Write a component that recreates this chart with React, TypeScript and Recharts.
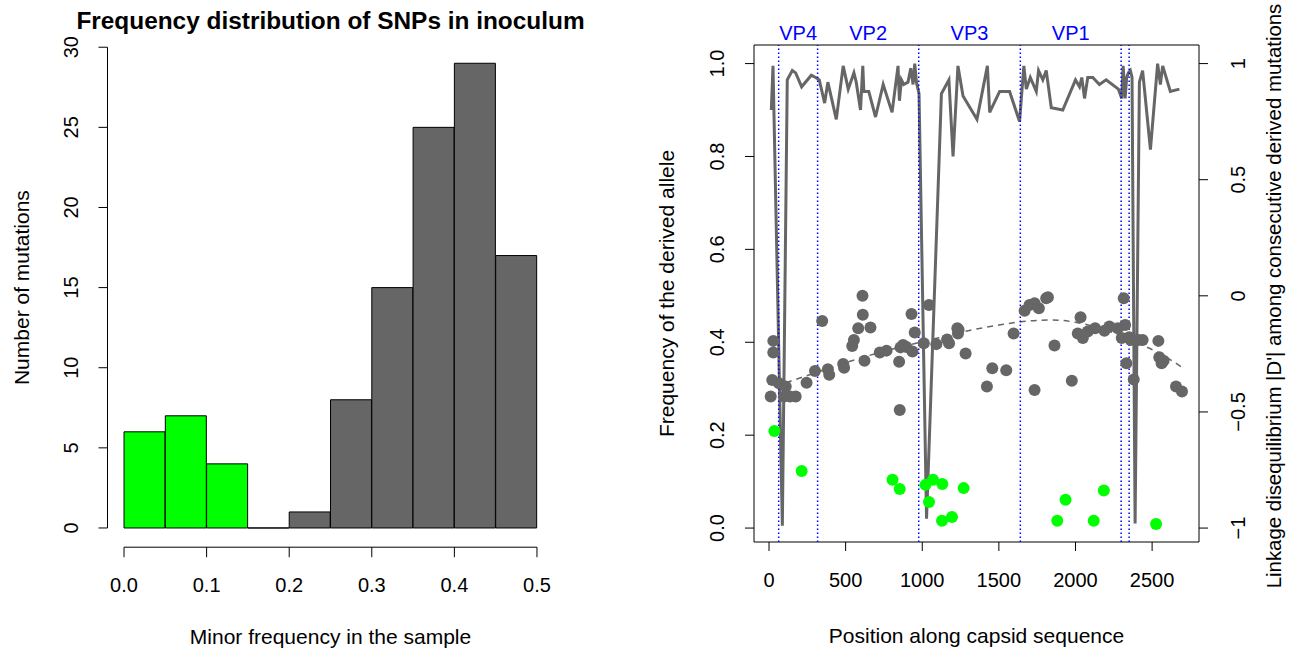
import React from "react";
import {
  ComposedChart,
  Bar,
  Cell,
  Line,
  Scatter,
  XAxis,
  YAxis,
  ReferenceLine,
  ReferenceArea,
  ReferenceDot,
} from "recharts";

// left panel: histogram of minor frequency
const binStarts = [0, 0.05, 0.1, 0.15, 0.2, 0.25, 0.3, 0.35, 0.4, 0.45];
const binCounts = [6, 7, 4, 0, 1, 8, 15, 25, 29, 17];
const binWidth = 0.05;
const rareCutoff = 0.15;
const freqTicks = [0, 0.1, 0.2, 0.3, 0.4, 0.5];
const countTicks = [0, 5, 10, 15, 20, 25, 30];

// right panel: derived allele frequency along the capsid
const posTicks = [0, 500, 1000, 1500, 2000, 2500];
const alleleTicks = [0, 0.2, 0.4, 0.6, 0.8, 1];
const ldTicks = [-1, -0.5, 0, 0.5, 1];

const commonSnps: [number, number][] = [
  [11, 0.283], [21, 0.319], [28, 0.378], [28, 0.403], [65, 0.312], [98, 0.283],
  [109, 0.305], [137, 0.283], [174, 0.283], [245, 0.313], [300, 0.338], [347, 0.446],
  [384, 0.342], [393, 0.33], [484, 0.353], [490, 0.345], [543, 0.392], [554, 0.405],
  [582, 0.43], [610, 0.5], [612, 0.459], [623, 0.36], [662, 0.432], [723, 0.378],
  [767, 0.382], [849, 0.358], [853, 0.254], [858, 0.389], [875, 0.394], [897, 0.39],
  [930, 0.461], [936, 0.38], [951, 0.421], [1010, 0.398], [1044, 0.48], [1092, 0.396],
  [1162, 0.406], [1175, 0.398], [1229, 0.43], [1233, 0.419], [1237, 0.427], [1283, 0.376],
  [1422, 0.305], [1457, 0.344], [1548, 0.34], [1596, 0.419], [1668, 0.468], [1700, 0.48],
  [1733, 0.484], [1733, 0.297], [1761, 0.473], [1809, 0.495], [1820, 0.497], [1863, 0.393],
  [1976, 0.317], [2015, 0.419], [2033, 0.454], [2048, 0.409], [2080, 0.423], [2128, 0.43],
  [2189, 0.425], [2221, 0.434], [2276, 0.43], [2302, 0.409], [2315, 0.495], [2324, 0.437],
  [2332, 0.355], [2350, 0.411], [2360, 0.405], [2380, 0.32], [2411, 0.405], [2438, 0.405],
  [2541, 0.403], [2547, 0.368], [2562, 0.355], [2575, 0.36], [2656, 0.305], [2695, 0.294],
];

const rareSnps: [number, number][] = [
  [35, 0.209], [213, 0.123], [806, 0.104], [853, 0.084], [1021, 0.093], [1044, 0.056],
  [1070, 0.104], [1131, 0.095], [1129, 0.016], [1194, 0.024], [1270, 0.086], [1881, 0.016],
  [1935, 0.061], [2119, 0.016], [2185, 0.081], [2526, 0.009],
];

// |D'| between consecutive derived mutations (right axis)
const ldPos = [
  15, 26, 87, 119, 152, 174, 213, 276, 304, 328, 363, 384, 439, 484, 517, 554, 569, 597,
  612, 619, 651, 695, 745, 803, 842, 851, 864, 879, 907, 925, 940, 951, 962, 979, 1028,
  1125, 1174, 1201, 1233, 1266, 1357, 1425, 1440, 1505, 1570, 1635, 1663, 1679, 1705,
  1744, 1759, 1787, 1809, 1842, 1917, 2000, 2026, 2041, 2059, 2080, 2113, 2156, 2200,
  2280, 2302, 2311, 2324, 2334, 2345, 2358, 2369, 2389, 2417, 2438, 2489, 2536, 2554,
  2569, 2619, 2678,
];
const ldVal = [
  0.8, 0.99, -0.99, 0.93, 0.97, 0.96, 0.9, 0.95, 0.94, 0.93, 0.83, 0.92, 0.76, 0.99, 0.89,
  0.96, 0.92, 0.8, 0.99, 0.88, 0.88, 0.77, 0.91, 0.79, 0.99, 0.84, 0.93, 0.91, 0.92, 0.98,
  0.91, 1.0, 0.92, 0.87, -0.96, 0.87, 0.93, 0.6, 0.99, 0.86, 0.76, 0.99, 0.79, 0.88, 0.88,
  0.75, 0.99, 0.89, 0.94, 0.88, 0.97, 0.93, 0.97, 0.81, 0.8, 0.93, 0.9, 0.94, 0.85, 0.94,
  0.94, 0.91, 0.93, 0.89, 0.85, 0.99, 0.85, 0.94, 0.96, 0.97, 0.94, -0.98, 0.92, 0.97,
  0.63, 1.0, 0.91, 0.99, 0.88, 0.89,
];

// smoothed trend of derived allele frequency
const trendPos = [110, 300, 500, 700, 900, 1100, 1300, 1500, 1700, 1850, 2000, 2200, 2400, 2550, 2700];
const trendFreq = [0.313, 0.334, 0.356, 0.376, 0.393, 0.409, 0.425, 0.437, 0.446, 0.448, 0.443, 0.426, 0.399, 0.376, 0.345];

const proteinBounds = [63, 317, 977, 1640, 2298, 2350];
const proteinNames = ["VP4", "VP2", "VP3", "VP1"];

const GREY = "#666666";
const GREEN = "#00ff00";
const BLUE = "#0000ff";
const FONT = "'Liberation Sans', Arial, Helvetica, sans-serif";

const histData = binStarts.map((s, i) => ({ mid: s + binWidth / 2, count: binCounts[i] }));
const commonData = commonSnps.map(([pos, freq]) => ({ pos, freq }));
const rareData = rareSnps.map(([pos, freq]) => ({ pos, freq }));
const ldData = ldPos.map((pos, i) => ({ pos, d: ldVal[i] }));
const trendData = trendPos.map((pos, i) => ({ pos, freq: trendFreq[i] }));
const proteinLabels = proteinNames.map((name, i) => ({
  name,
  pos: (proteinBounds[i] + proteinBounds[i + 1]) / 2,
}));

const POS_DOMAIN: [number, number] = [-98, 2806];
const FREQ_DOMAIN: [number, number] = [-0.03, 1.04];
const LD_DOMAIN: [number, number] = [-1.06, 1.08];

function SideTick(props: any) {
  const { x, y, payload, fmt } = props;
  return (
    <text
      transform={`translate(${x},${y}) rotate(-90)`}
      textAnchor="middle"
      fontSize={20}
      fill="#000"
    >
      {fmt(payload.value)}
    </text>
  );
}

function HistBar(props: any) {
  const { x, y, width, height, fill } = props;
  const h = Math.max(height || 0, 0);
  return (
    <path
      d={`M${x},${y + h}V${y}H${x + width}V${y + h}Z`}
      fill={fill}
      stroke="#000"
      strokeWidth={1}
    />
  );
}

const dot = (color: string) => (p: any) => <circle cx={p.cx} cy={p.cy} r={6} fill={color} />;

const minus = (v: number) => (v < 0 ? "\u2212" + String(-v) : String(v));

function Histogram() {
  return (
    <ComposedChart
      width={649}
      height={648}
      data={histData}
      barCategoryGap={0}
      barGap={0}
      margin={{ top: 28, right: 95.5, bottom: 40.8, left: 47.5 }}
    >
      <XAxis
        type="number"
        dataKey="mid"
        domain={[-0.02, 0.52]}
        allowDataOverflow
        ticks={freqTicks}
        tickFormatter={(v: number) => v.toFixed(1)}
        axisLine={false}
        tickLine={{ stroke: "#000" }}
        tickSize={10}
        tickMargin={21}
        tick={{ fill: "#000", fontSize: 20 }}
        height={60}
      />
      <YAxis
        type="number"
        domain={[-1.2, 31.2]}
        allowDataOverflow
        ticks={countTicks}
        axisLine={false}
        tickLine={{ stroke: "#000" }}
        tickSize={9}
        tickMargin={21}
        tick={(p: any) => <SideTick {...p} fmt={String} />}
        width={60}
      />
      <ReferenceLine
        segment={[{ x: 0, y: -1.2 }, { x: 0.5, y: -1.2 }]}
        stroke="#000"
        ifOverflow="visible"
      />
      <ReferenceLine
        segment={[{ x: -0.02, y: 0 }, { x: -0.02, y: 30 }]}
        stroke="#000"
        ifOverflow="visible"
      />
      <Bar dataKey="count" shape={<HistBar />} isAnimationActive={false}>
        {histData.map((d, i) => (
          <Cell key={i} fill={d.mid < rareCutoff ? GREEN : GREY} />
        ))}
      </Bar>
      <text x={330.5} y={29} textAnchor="middle" fontSize={24.4} fontWeight="bold" fill="#000">
        Frequency distribution of SNPs in inoculum
      </text>
      <text x={330.5} y={644} textAnchor="middle" fontSize={21} fill="#000">
        Minor frequency in the sample
      </text>
      <text transform="translate(29,287.6) rotate(-90)" textAnchor="middle" fontSize={21} fill="#000">
        Number of mutations
      </text>
    </ComposedChart>
  );
}

function CapsidPlot() {
  return (
    <ComposedChart width={649} height={648} margin={{ top: 45, right: 39, bottom: 46, left: 45 }}>
      <XAxis
        type="number"
        dataKey="pos"
        domain={POS_DOMAIN}
        allowDataOverflow
        ticks={posTicks}
        axisLine={false}
        tickLine={{ stroke: "#000" }}
        tickSize={9}
        tickMargin={22}
        tick={{ fill: "#000", fontSize: 20 }}
        height={60}
      />
      <YAxis
        yAxisId="left"
        type="number"
        dataKey="freq"
        domain={FREQ_DOMAIN}
        allowDataOverflow
        ticks={alleleTicks}
        axisLine={false}
        tickLine={{ stroke: "#000" }}
        tickSize={9}
        tickMargin={21}
        tick={(p: any) => <SideTick {...p} fmt={(v: number) => v.toFixed(1)} />}
        width={60}
      />
      <YAxis
        yAxisId="right"
        orientation="right"
        type="number"
        dataKey="d"
        domain={LD_DOMAIN}
        allowDataOverflow
        ticks={ldTicks}
        axisLine={false}
        tickLine={{ stroke: "#000" }}
        tickSize={9}
        tickMargin={37}
        tick={(p: any) => <SideTick {...p} fmt={minus} />}
        width={60}
      />
      <ReferenceArea
        yAxisId="left"
        x1={POS_DOMAIN[0]}
        x2={POS_DOMAIN[1]}
        y1={FREQ_DOMAIN[0]}
        y2={FREQ_DOMAIN[1]}
        fill="none"
        stroke="#000"
        strokeWidth={1}
        ifOverflow="visible"
      />
      <Line
        yAxisId="right"
        data={ldData}
        dataKey="d"
        type="linear"
        stroke={GREY}
        strokeWidth={3}
        dot={false}
        isAnimationActive={false}
      />
      <Scatter yAxisId="left" data={commonData} shape={dot(GREY)} isAnimationActive={false} />
      <Scatter yAxisId="left" data={rareData} shape={dot(GREEN)} isAnimationActive={false} />
      <Line
        yAxisId="left"
        data={trendData}
        dataKey="freq"
        type="monotone"
        stroke={GREY}
        strokeWidth={1.5}
        strokeDasharray="6 5"
        dot={false}
        isAnimationActive={false}
      />
      {proteinBounds.map((b) => (
        <ReferenceLine
          key={b}
          yAxisId="left"
          x={b}
          stroke={BLUE}
          strokeOpacity={1}
          strokeDasharray="1.5 2.5"
          strokeWidth={1.5}
        />
      ))}
      {proteinLabels.map((p) => (
        <ReferenceDot
          key={p.name}
          yAxisId="left"
          x={p.pos}
          y={FREQ_DOMAIN[1]}
          r={0}
          fill="none"
          stroke="none"
          ifOverflow="visible"
          label={{ value: p.name, position: "top", offset: 5, fill: BLUE, fontSize: 20 }}
        />
      ))}
      <text x={327.5} y={643} textAnchor="middle" fontSize={21} fill="#000">
        Position along capsid sequence
      </text>
      <text transform="translate(25,293.5) rotate(-90)" textAnchor="middle" fontSize={21} fill="#000">
        Frequency of the derived allele
      </text>
      <text transform="translate(632,296) rotate(-90)" textAnchor="middle" fontSize={20.4} fill="#000">
        Linkage disequilibrium |D'| among consecutive derived mutations
      </text>
    </ComposedChart>
  );
}

export default function App() {
  return (
    <div
      style={{
        position: "absolute",
        left: 0,
        top: 0,
        width: 1298,
        height: 648,
        background: "#fff",
        fontFamily: FONT,
        overflow: "hidden",
      }}
    >
      <div style={{ position: "absolute", left: 0, top: 0 }}>
        <Histogram />
      </div>
      <div style={{ position: "absolute", left: 649, top: 0 }}>
        <CapsidPlot />
      </div>
    </div>
  );
}
